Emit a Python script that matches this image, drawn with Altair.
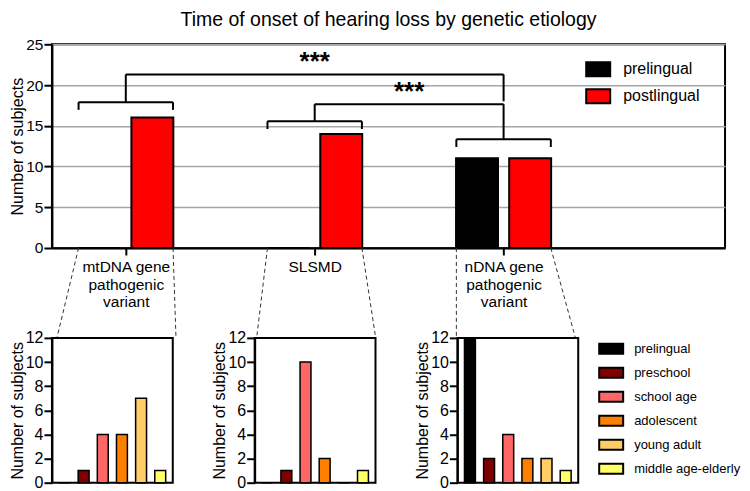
import json
import altair as alt
import pandas as pd

# ---------------- data ----------------
groups = ["mtDNA gene pathogenic variant", "SLSMD", "nDNA gene pathogenic variant"]
group_label_lines = [["mtDNA gene", "pathogenic", "variant"], ["SLSMD"], ["nDNA gene", "pathogenic", "variant"]]
onset_types = ["prelingual", "postlingual"]
prelingual_counts = [0, 0, 11]
postlingual_counts = [16, 14, 11]

periods = ["prelingual", "preschool", "school age", "adolescent", "young adult", "middle age-elderly"]
mtdna_counts = [0, 1, 4, 4, 7, 1]
slsmd_counts = [0, 1, 10, 2, 0, 1]
ndna_counts = [12, 2, 4, 2, 2, 1]

# significance annotation (y levels in "Number of subjects" units)
group_bracket_levels = [17.9, 15.55, 13.35]
comp_from = [0, 1]
comp_to = [2, 2]
comp_levels = [21.3, 17.65]
comp_leg_ends = [18.0, 13.35]
comp_labels = ["***", "***"]

# ---------------- styling / layout ----------------
FONT = "Liberation Sans"
onset_colors = ["#000000", "#ff0000"]
period_colors = ["#000000", "#800000", "#ff6666", "#ff8000", "#ffcc66", "#ffff66"]

TOP_W, TOP_H = 674, 204
PX_PER_UNIT = 192.0
X0 = 1 - 70 / PX_PER_UNIT
X1 = X0 + TOP_W / PX_PER_UNIT
BAR_OFFSET = 27 / PX_PER_UNIT
BAR_PX = 42
BRACKET_HALF = 0.25
LEG = 0.95
PANEL_W, PANEL_H = 121, 145
PANEL_GAP = 82
V_GAP = 90

# ---------------- top chart ----------------
bar_rows = []
for i, g in enumerate(groups):
    bar_rows.append({"group": g, "onset": "prelingual", "x": i + 1 - BAR_OFFSET, "count": prelingual_counts[i]})
    bar_rows.append({"group": g, "onset": "postlingual", "x": i + 1 + BAR_OFFSET, "count": postlingual_counts[i]})
bars_df = pd.DataFrame(bar_rows)

seg = []
for i, lvl in enumerate(group_bracket_levels):
    c = i + 1
    seg.append((c - BRACKET_HALF, lvl, c + BRACKET_HALF, lvl))
    seg.append((c - BRACKET_HALF, lvl, c - BRACKET_HALF, lvl - LEG))
    seg.append((c + BRACKET_HALF, lvl, c + BRACKET_HALF, lvl - LEG))
for a, b, lvl, end in zip(comp_from, comp_to, comp_levels, comp_leg_ends):
    seg.append((a + 1, group_bracket_levels[a], a + 1, lvl))
    seg.append((a + 1, lvl, b + 1, lvl))
    seg.append((b + 1, lvl, b + 1, end))
seg_df = pd.DataFrame(seg, columns=["x", "y", "x2", "y2"])

stars_df = pd.DataFrame({
    "x": [(a + b + 2) / 2 for a, b in zip(comp_from, comp_to)],
    "y": comp_levels,
    "label": comp_labels,
})

y_panel_top = -V_GAP * 25 / TOP_H
conn = []
for i in range(len(groups)):
    c = i + 1
    left_px = i * (PANEL_W + PANEL_GAP)
    conn.append((c - BRACKET_HALF, 0, X0 + left_px / PX_PER_UNIT, y_panel_top))
    conn.append((c + BRACKET_HALF, 0, X0 + (left_px + PANEL_W) / PX_PER_UNIT, y_panel_top))
conn_df = pd.DataFrame(conn, columns=["x", "y", "x2", "y2"])

label_expr = "".join(
    f"datum.value == {i + 1} ? {json.dumps(lines)} : " for i, lines in enumerate(group_label_lines)
) + "''"

x_scale = alt.Scale(domain=[X0, X1], nice=False, zero=False)
y_scale = alt.Scale(domain=[0, 25], nice=False)
x_axis = alt.Axis(values=[1, 2, 3], labelExpr=label_expr, grid=False, title=None, tickSize=7,
                  labelFontSize=15.5, labelLineHeight=17.5, labelPadding=5, labelOverlap=False,
                  labelFlush=False)
y_axis = alt.Axis(values=[0, 5, 10, 15, 20, 25], grid=True, gridColor="#a6a6a6", gridWidth=1.5,
                  tickSize=8, labelFontSize=15.5, labelPadding=1, title="Number of subjects",
                  titleFontSize=16, titlePadding=0)

X = alt.X("x:Q", scale=x_scale, axis=x_axis)
Y = alt.Y("y:Q", scale=y_scale, axis=y_axis)

bars = alt.Chart(bars_df).mark_bar(size=BAR_PX, stroke="black", strokeWidth=2).encode(
    x=X,
    y=alt.Y("count:Q", scale=y_scale, axis=y_axis),
    color=alt.Color("onset:N", scale=alt.Scale(domain=onset_types, range=onset_colors),
                    legend=alt.Legend(title=None, orient="none", legendX=534, legendY=12,
                                      direction="vertical",
                                      symbolType="M-1,-0.5833H1V0.5833H-1Z", symbolSize=576,
                                      symbolStrokeColor="black", symbolStrokeWidth=2,
                                      labelFontSize=16, labelOffset=12, rowPadding=3, padding=0)),
)
brackets = alt.Chart(seg_df).mark_rule(color="black", strokeWidth=2).encode(
    x=X, y=Y, x2="x2:Q", y2="y2:Q")
stars = alt.Chart(stars_df).mark_text(fontSize=26, fontWeight="bold", baseline="alphabetic",
                                      dy=-4, color="black").encode(x=X, y=Y, text="label:N")
connectors = alt.Chart(conn_df).mark_rule(color="#333333", strokeWidth=1, strokeDash=[4, 3],
                                          clip=False).encode(x=X, y=Y, x2="x2:Q", y2="y2:Q")

top = alt.layer(bars, brackets, stars, connectors).properties(
    width=TOP_W, height=TOP_H,
    title=alt.Title("Time of onset of hearing loss by genetic etiology", fontSize=19.5,
                    fontWeight="normal", offset=7, anchor="middle"),
)

# ---------------- bottom panels ----------------
def panel(counts, show_legend):
    df = pd.DataFrame({"period": periods, "count": counts})
    legend = None
    if show_legend:
        legend = alt.Legend(title=None, orient="none", legendX=141, legendY=-2, direction="vertical",
                            symbolType="M-1,-0.4167H1V0.4167H-1Z", symbolSize=576,
                            symbolStrokeColor="black", symbolStrokeWidth=2,
                            labelFontSize=13, labelOffset=10, rowPadding=1, padding=0)
    return alt.Chart(df).mark_bar(stroke="black", strokeWidth=1.5).encode(
        x=alt.X("period:N", sort=periods,
                scale=alt.Scale(domain=periods, paddingInner=0.43, paddingOuter=0.37), axis=None),
        y=alt.Y("count:Q", scale=alt.Scale(domain=[0, 12], nice=False),
                axis=alt.Axis(values=list(range(0, 13, 2)), grid=False, tickSize=8,
                              labelFontSize=16, labelPadding=1, title="Number of subjects",
                              titleFontSize=16, titlePadding=0)),
        color=alt.Color("period:N", scale=alt.Scale(domain=periods, range=period_colors), legend=legend),
    ).properties(width=PANEL_W, height=PANEL_H)

bottom = alt.hconcat(
    panel(mtdna_counts, False), panel(slsmd_counts, False), panel(ndna_counts, True),
    spacing=PANEL_GAP, bounds="flush",
).resolve_scale(color="independent", x="independent", y="independent")

chart = alt.vconcat(top, bottom, spacing=V_GAP, bounds="flush", padding=0).resolve_scale(
    color="independent", x="independent", y="independent"
).configure(font=FONT).configure_view(stroke="black", strokeWidth=2).configure_axis(
    domainColor="black", domainWidth=2, tickColor="black", tickWidth=2,
    labelColor="black", titleColor="black", labelFont=FONT, titleFont=FONT, titleFontWeight="normal",
).configure_legend(labelFont=FONT, labelColor="black").configure_title(font=FONT, color="black")

chart.save("out.html", embed_options={"renderer": "svg", "actions": False})
